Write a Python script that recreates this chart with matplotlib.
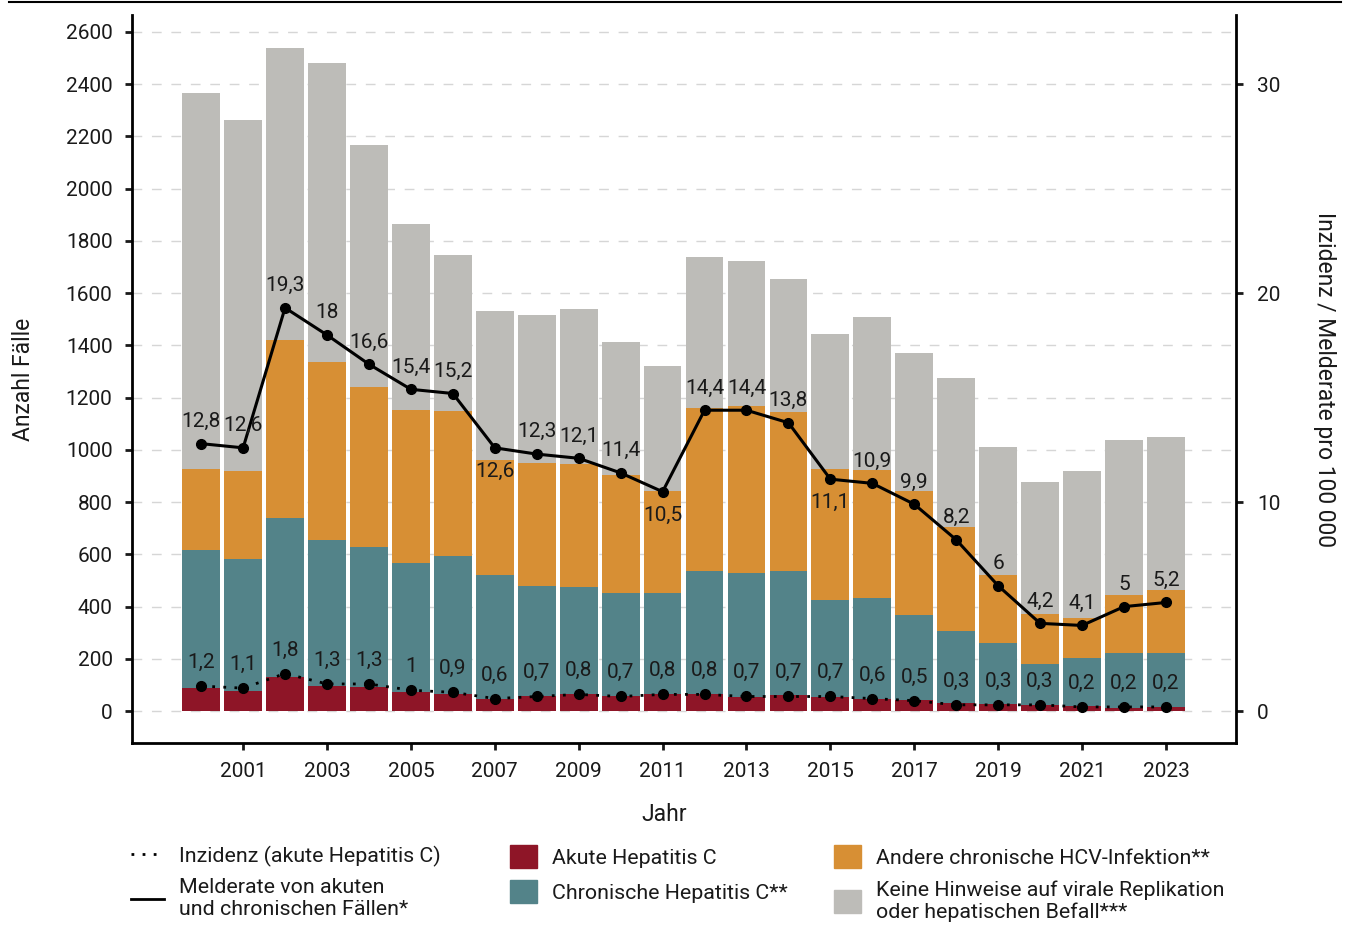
import numpy as np
import matplotlib
matplotlib.use("Agg")
import matplotlib.pyplot as plt
from matplotlib.lines import Line2D
from matplotlib.patches import Patch

plt.rcParams['font.family'] = ['Roboto', 'DejaVu Sans']
plt.rcParams['font.weight'] = 'normal'

# data
jahre = list(range(2000, 2024))
akute = [88, 77, 130, 97, 92, 74, 66, 46, 57, 66, 57, 66, 66, 54, 61, 54, 46, 42, 33, 29, 23, 20, 11, 15]
chronische = [529, 505, 609, 558, 536, 493, 527, 475, 422, 409, 395, 386, 470, 474, 475, 371, 387, 326, 273, 231, 157, 183, 211, 207]
andere = [310, 337, 682, 681, 613, 585, 556, 440, 471, 471, 452, 390, 624, 642, 609, 502, 490, 474, 399, 261, 191, 153, 222, 241]
keine = [1439, 1344, 1118, 1145, 926, 713, 597, 571, 566, 593, 509, 479, 578, 553, 509, 517, 586, 529, 570, 490, 506, 563, 594, 586]
melderate = [12.8, 12.6, 19.3, 18, 16.6, 15.4, 15.2, 12.6, 12.3, 12.1, 11.4, 10.5, 14.4, 14.4, 13.8, 11.1, 10.9, 9.9, 8.2, 6, 4.2, 4.1, 5, 5.2]
inzidenz = [1.2, 1.1, 1.8, 1.3, 1.3, 1, 0.9, 0.6, 0.7, 0.8, 0.7, 0.8, 0.8, 0.7, 0.7, 0.7, 0.6, 0.5, 0.3, 0.3, 0.3, 0.2, 0.2, 0.2]
unten = [2007, 2011, 2015]  # labels placed below the point

c_akut = '#8E1527'
c_chron = '#538389'
c_andere = '#D78F34'
c_keine = '#BDBCB8'
txt = '#1a1a1a'

fig = plt.figure(figsize=(13.52, 9.27), dpi=100)
ax = fig.add_axes([0.0976, 0.1985, 0.8166, 0.7853])

x = np.array(jahre)
a = np.array(akute)
b = np.array(chronische)
c = np.array(andere)
d = np.array(keine)
w = 0.9
ax.bar(x, a, w, color=c_akut, zorder=2)
ax.bar(x, b, w, bottom=a, color=c_chron, zorder=2)
ax.bar(x, c, w, bottom=a + b, color=c_andere, zorder=2)
ax.bar(x, d, w, bottom=a + b + c, color=c_keine, zorder=2)

ax.set_xlim(1998.35, 2024.67)
ax.set_ylim(-122, 2665)
ax.set_yticks(range(0, 2601, 200))
ax.set_xticks(range(2001, 2024, 2))
ax.grid(axis='y', color='#D6D6D6', linestyle=(0, (7, 7)), linewidth=1, zorder=0)
ax.set_axisbelow(True)
ax.set_ylabel('Anzahl Fälle', fontsize=16.5, color=txt, labelpad=22)
ax.set_xlabel('Jahr', fontsize=16.5, color=txt, labelpad=12)
ax.xaxis.set_label_coords(0.482, -0.083)

ax2 = ax.twinx()
ax2.set_ylim(-122 / 80, 2665 / 80)
ax2.set_yticks([0, 10, 20, 30])
ax2.set_ylabel('Inzidenz / Melderate pro 100 000', fontsize=16.5, color=txt, rotation=-90, labelpad=40)

ax2.plot(x, melderate, color='black', linewidth=2.2, marker='o', markersize=7, zorder=5)
ax2.plot(x, inzidenz, color='black', linewidth=2, linestyle=(0, (1, 3)), marker='o', markersize=7, zorder=5)

for yr, v in zip(jahre, melderate):
    s = ('%g' % v).replace('.', ',')
    off = -17 if yr in unten else 16
    ax2.annotate(s, (yr, v), xytext=(0, off), textcoords='offset points',
                 ha='center', va='center', fontsize=15, color=txt, zorder=6)
for yr, v in zip(jahre, inzidenz):
    s = ('%g' % v).replace('.', ',')
    ax2.annotate(s, (yr, v), xytext=(0, 17), textcoords='offset points',
                 ha='center', va='center', fontsize=15, color=txt, zorder=6)

for axx in (ax, ax2):
    axx.spines['top'].set_visible(False)
    for sp in axx.spines.values():
        sp.set_linewidth(2)
    axx.tick_params(labelsize=15, colors=txt, width=2, length=5)
ax.tick_params(axis='y', pad=9)
ax.tick_params(axis='x', pad=9)
ax2.tick_params(axis='y', pad=10)
ax.spines['right'].set_visible(False)
ax2.spines['left'].set_visible(False)
ax2.spines['bottom'].set_visible(False)
ax.spines['top'].set_visible(False)

# top border line
fig.add_artist(Line2D([0.007, 0.992], [0.998, 0.998], color='black', linewidth=1.5))

lkw = dict(frameon=False, fontsize=15.4, labelcolor=txt, handletextpad=0.7, labelspacing=0.55,
           borderaxespad=0, borderpad=0)
h1 = [Line2D([], [], color='black', linestyle=(0, (1, 3)), linewidth=2),
      Line2D([], [], color='black', linewidth=2)]
fig.legend(h1, ['Inzidenz (akute Hepatitis C)', 'Melderate von akuten\nund chronischen Fällen*'],
           loc='upper left', bbox_to_anchor=(0.097, 0.088), handlelength=1.55, **lkw)
h2 = [Patch(color=c_akut), Patch(color=c_chron)]
fig.legend(h2, ['Akute Hepatitis C', 'Chronische Hepatitis C**'],
           loc='upper left', bbox_to_anchor=(0.377, 0.088), handlelength=1.27, handleheight=1.27, **lkw)
h3 = [Patch(color=c_andere), Patch(color=c_keine)]
fig.legend(h3, ['Andere chronische HCV-Infektion**', 'Keine Hinweise auf virale Replikation\noder hepatischen Befall***'],
           loc='upper left', bbox_to_anchor=(0.617, 0.088), handlelength=1.27, handleheight=1.27, **lkw)

fig.savefig('out.png', dpi=100)
